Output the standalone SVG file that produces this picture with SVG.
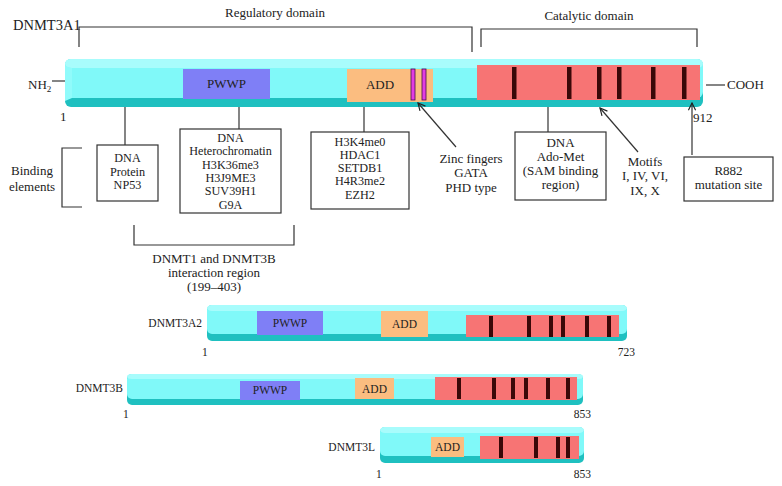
<svg xmlns="http://www.w3.org/2000/svg" width="782" height="486" viewBox="0 0 782 486">
<defs>
<style>
text{font-family:"Liberation Serif","Times New Roman",serif;fill:#222;font-size:13px}
.c{text-anchor:middle}
.e{text-anchor:end}
.sm{font-size:11.5px}
.bx{font-size:12.2px}
.ln{stroke:#333;stroke-width:1.2;fill:none}
.box{fill:#fff;stroke:#333;stroke-width:1.2}
.base{fill:#1fc0c0}
.main{fill:#80f9f9}
.top{fill:#a8fcfc}
.pwwp{fill:#7f7ff6}
.add{fill:#fbbd80}
.cat{fill:#f77474}
.mot{fill:#3a0808}
.zn{fill:#e23ce2;stroke:#4a0a4a;stroke-width:0.8}
</style>
<marker id="ah" viewBox="0 0 10 10" refX="9" refY="5" markerWidth="9" markerHeight="9" orient="auto" markerUnits="userSpaceOnUse">
<path d="M1,1 L9,5 L1,9" fill="none" stroke="#222" stroke-width="1.3"/>
</marker>
</defs>
<rect width="782" height="486" fill="#fff"/>

<!-- DNMT3A1 -->
<g id="dnmt3a1">
<text x="13" y="30" style="font-size:14.5px">DNMT3A1</text>
<rect class="base" x="65" y="59" width="638" height="48" rx="6"/>
<rect class="main" x="65" y="59" width="638" height="39" rx="6"/>
<rect class="top" x="65" y="59" width="638" height="9" rx="6"/>
<polygon points="65,66 72,68 72,98 65,101" fill="#90fbfb"/>
<rect class="pwwp" x="183" y="69" width="87" height="30"/>
<text class="c" x="226.5" y="88">PWWP</text>
<rect class="add" x="347" y="69" width="86" height="33"/>
<text class="c" x="380" y="89">ADD</text>
<rect class="zn" x="411" y="69" width="4" height="31"/>
<rect class="zn" x="422" y="69" width="4" height="31"/>
<rect class="cat" x="477" y="65" width="223" height="35"/>
<rect class="mot" x="512" y="67" width="4.5" height="32"/>
<rect class="mot" x="567" y="67" width="4.5" height="32"/>
<rect class="mot" x="597" y="67" width="4.5" height="32"/>
<rect class="mot" x="617" y="67" width="4.5" height="32"/>
<rect class="mot" x="651" y="67" width="4.5" height="32"/>
<rect class="mot" x="682" y="67" width="4.5" height="32"/>
<text x="28" y="89">NH<tspan style="font-size:9px" dy="3">2</tspan></text>
<text x="727" y="89">COOH</text>
<text x="60" y="121">1</text>
<text x="693" y="122">912</text>
</g>

<!-- domain labels -->
<g id="regulatory">
<text class="c" x="275" y="17">Regulatory domain</text>
</g>
<g id="catalytic">
<text class="c" x="589" y="20">Catalytic domain</text>
</g>

<!-- annotation boxes -->
<g id="box-dna-protein">
<rect class="box" x="97" y="145" width="61" height="56"/>
<text class="c bx" x="127.5" y="162">DNA</text>
<text class="c bx" x="127.5" y="175.5">Protein</text>
<text class="c bx" x="127.5" y="189">NP53</text>
</g>
<g id="box-pwwp">
<rect class="box" x="180" y="129" width="101" height="84"/>
<text class="c bx" x="230.5" y="142">DNA</text>
<text class="c bx" x="230.5" y="155.3">Heterochromatin</text>
<text class="c bx" x="230.5" y="168.6">H3K36me3</text>
<text class="c bx" x="230.5" y="181.9">H3J9ME3</text>
<text class="c bx" x="230.5" y="195.2">SUV39H1</text>
<text class="c bx" x="230.5" y="208.5">G9A</text>
</g>
<g id="box-add">
<rect class="box" x="311" y="132" width="98" height="77"/>
<text class="c bx" x="360" y="145.5">H3K4me0</text>
<text class="c bx" x="360" y="158.8">HDAC1</text>
<text class="c bx" x="360" y="172.1">SETDB1</text>
<text class="c bx" x="360" y="185.4">H4R3me2</text>
<text class="c bx" x="360" y="198.7">EZH2</text>
</g>
<g id="zinc">
<text class="c" x="471" y="163">Zinc fingers</text>
<text class="c" x="471" y="177">GATA</text>
<text class="c" x="471" y="192">PHD type</text>
</g>
<g id="box-ado-met">
<rect class="box" x="515" y="132" width="91" height="68"/>
<text class="c" x="560.5" y="147">DNA</text>
<text class="c" x="560.5" y="161">Ado-Met</text>
<text class="c" x="560.5" y="175">(SAM binding</text>
<text class="c" x="560.5" y="189">region)</text>
</g>
<g id="motifs">
<text class="c" x="645" y="166">Motifs</text>
<text class="c" x="645" y="180">I, IV, VI,</text>
<text class="c" x="645" y="195">IX, X</text>
</g>
<g id="box-r882">
<rect class="box" x="684" y="157" width="89" height="44"/>
<text class="c" x="728.5" y="175">R882</text>
<text class="c" x="728.5" y="189">mutation site</text>
</g>
<g id="binding">
<text class="c" x="32" y="175">Binding</text>
<text class="c" x="32" y="191">elements</text>
</g>
<g id="interaction">
<text class="c" x="214" y="263">DNMT1 and DNMT3B</text>
<text class="c" x="214" y="277">interaction region</text>
<text class="c" x="214" y="291">(199–403)</text>
</g>

<!-- DNMT3A2 -->
<g id="dnmt3a2">
<text class="e sm" x="202" y="327">DNMT3A2</text>
<rect class="base" x="207" y="305" width="420" height="36" rx="5"/>
<rect class="main" x="207" y="305" width="420" height="29" rx="5"/>
<rect class="top" x="207" y="305" width="420" height="6" rx="5"/>
<rect class="pwwp" x="257" y="311" width="66" height="24"/>
<text class="c sm" x="290" y="327">PWWP</text>
<rect class="add" x="381" y="311" width="47" height="26"/>
<text class="c sm" x="404.5" y="328">ADD</text>
<rect class="cat" x="466" y="315" width="153" height="22"/>
<rect class="mot" x="489" y="316" width="4" height="21"/>
<rect class="mot" x="527" y="316" width="4" height="21"/>
<rect class="mot" x="549" y="316" width="4" height="21"/>
<rect class="mot" x="561" y="316" width="4" height="21"/>
<rect class="mot" x="585" y="316" width="4" height="21"/>
<rect class="mot" x="607" y="316" width="4" height="21"/>
<text class="sm" x="202" y="356">1</text>
<text class="e sm" x="635" y="356">723</text>
</g>

<!-- DNMT3B -->
<g id="dnmt3b">
<text class="e sm" x="123" y="392">DNMT3B</text>
<rect class="base" x="127" y="374" width="456" height="31" rx="5"/>
<rect class="main" x="127" y="374" width="456" height="25" rx="5"/>
<rect class="top" x="127" y="374" width="456" height="5" rx="5"/>
<rect class="pwwp" x="240" y="381" width="60" height="19"/>
<text class="c sm" x="270" y="394">PWWP</text>
<rect class="add" x="355" y="378" width="39" height="21"/>
<text class="c sm" x="374.5" y="393">ADD</text>
<rect class="cat" x="435" y="377" width="142" height="23"/>
<rect class="mot" x="457" y="378" width="4" height="21"/>
<rect class="mot" x="492" y="378" width="4" height="21"/>
<rect class="mot" x="511" y="378" width="4" height="21"/>
<rect class="mot" x="524" y="378" width="4" height="21"/>
<rect class="mot" x="546" y="378" width="4" height="21"/>
<rect class="mot" x="566" y="378" width="4" height="21"/>
<text class="sm" x="123" y="418">1</text>
<text class="e sm" x="591" y="418">853</text>
</g>

<!-- DNMT3L -->
<g id="dnmt3l">
<text class="e sm" x="375" y="451">DNMT3L</text>
<rect class="base" x="380" y="427" width="204" height="36" rx="5"/>
<rect class="main" x="380" y="427" width="204" height="29" rx="5"/>
<rect class="top" x="380" y="427" width="204" height="6" rx="5"/>
<rect class="add" x="431" y="437" width="33" height="20"/>
<text class="c sm" x="447.5" y="451">ADD</text>
<rect class="cat" x="480" y="436" width="99" height="23"/>
<rect class="mot" x="499" y="437" width="4" height="21"/>
<rect class="mot" x="534" y="437" width="4" height="21"/>
<rect class="mot" x="556" y="437" width="4" height="21"/>
<rect class="mot" x="566" y="437" width="4" height="21"/>
<text class="sm" x="376" y="478">1</text>
<text class="e sm" x="591" y="478">853</text>
</g>

<!-- connectors -->
<g id="connectors">
<polyline class="ln" points="79,47 79,27 472,27 472,52"/>
<polyline class="ln" points="481,47 481,29 697,29 697,47"/>
<line class="ln" x1="52" y1="81" x2="65" y2="81"/>
<line class="ln" x1="706" y1="85" x2="725" y2="85"/>
<line class="ln" x1="125" y1="107" x2="125" y2="145"/>
<line class="ln" x1="239" y1="107" x2="239" y2="129"/>
<line class="ln" x1="364" y1="107" x2="364" y2="132"/>
<line class="ln" x1="548" y1="107" x2="548" y2="132"/>
<line class="ln" x1="456" y1="147" x2="418" y2="103" marker-end="url(#ah)"/>
<line class="ln" x1="638" y1="152" x2="600" y2="108" marker-end="url(#ah)"/>
<line class="ln" x1="692" y1="155" x2="692" y2="103" marker-end="url(#ah)"/>
<polyline class="ln" points="82,148 62,148 62,207 82,207"/>
<polyline class="ln" points="134,225 134,245 294,245 294,225"/>
</g>
</svg>
